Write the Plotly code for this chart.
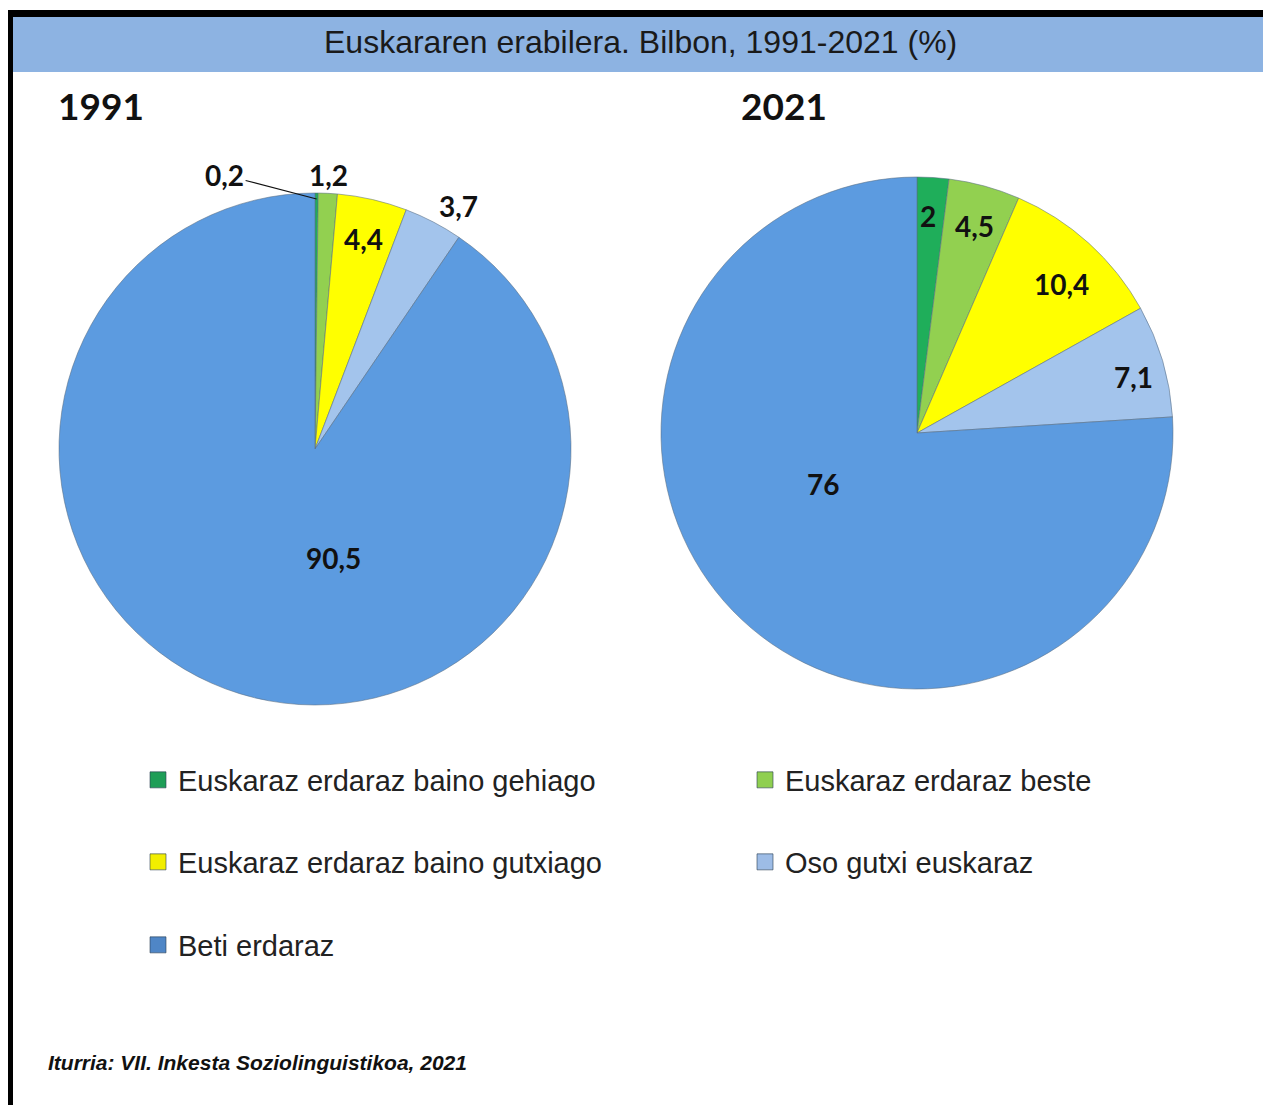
import math
import plotly.graph_objects as go

# ---------------- data ----------------
categories = [
    "Euskaraz erdaraz baino gehiago",
    "Euskaraz erdaraz beste",
    "Euskaraz erdaraz baino gutxiago",
    "Oso gutxi euskaraz",
    "Beti erdaraz",
]
values_1991 = [0.2, 1.2, 4.4, 3.7, 90.5]
values_2021 = [2.0, 4.5, 10.4, 7.1, 76.0]
years = ["1991", "2021"]
title_text = "Euskararen erabilera. Bilbon, 1991-2021 (%)"
source_text = "Iturria: VII. Inkesta Soziolinguistikoa, 2021"

# ---------------- style ----------------
slice_colors = ["#1fae5a", "#92d050", "#ffff00", "#a3c4ec", "#5c9be0"]
legend_colors = ["#1e9e57", "#8fcf50", "#f2ee00", "#9dbce6", "#4f86c6"]

W, H = 1255, 1097      # page has an 8px body margin
OFF = 8


def px(x):
    return (x - OFF) / W


def py(y):
    return 1 - (y - OFF) / H


R = 256
centers = [(315, 449), (917, 433)]
# label placement (radius factor, angle nudge in degrees) per slice
label_pos = [
    [None, (1.07, 0), (0.84, 0), (1.10, 3), (0.43, -26.6)],
    [(0.85, -0.7), (0.84, 0.3), (0.81, 2.1), (0.875, 1.9), (0.42, 18.3)],
]
label_font = dict(family="Lato", size=28, color="#111111")


def fmt(v):
    return ("%g" % v).replace(".", ",")


fig = go.Figure()

for i, vals in enumerate([values_1991, values_2021]):
    cx, cy = centers[i]
    fig.add_trace(go.Pie(
        labels=categories,
        values=vals,
        sort=False,
        direction="clockwise",
        rotation=0,
        marker=dict(colors=slice_colors, line=dict(color="rgba(90,110,130,0.55)", width=1)),
        textinfo="none",
        hoverinfo="label+value",
        showlegend=False,
        domain=dict(x=[px(cx - R), px(cx + R)], y=[py(cy + R), py(cy - R)]),
    ))
    total = sum(vals)
    cum = 0
    for j, v in enumerate(vals):
        mid = (cum + v / 2) / total * 360
        cum += v
        lp = label_pos[i][j]
        if lp is None:
            tx = cx + R * math.sin(math.radians(mid))
            ty = cy - R * math.cos(math.radians(mid))
            fig.add_annotation(
                x=px(tx), y=py(ty + 6), xref="paper", yref="paper",
                text="<b>%s</b>" % fmt(v), showarrow=True, arrowhead=0,
                arrowwidth=1.2, arrowcolor="#111", ax=-92, ay=-24,
                font=label_font,
            )
            continue
        f, d = lp
        ang = math.radians(mid + d)
        lx = cx + R * f * math.sin(ang)
        ly = cy - R * f * math.cos(ang)
        fig.add_annotation(
            x=px(lx), y=py(ly), xref="paper", yref="paper",
            text="<b>%s</b>" % fmt(v), showarrow=False,
            xanchor="center", yanchor="middle", font=label_font,
        )

# legend: one legend box per entry, laid out in two columns
legend_names = ["legend", "legend2", "legend3", "legend4", "legend5"]
legend_xy = [(138, 780), (745, 780), (138, 862), (745, 862), (138, 945)]
for k, cat in enumerate(categories):
    fig.add_trace(go.Scatter(
        x=[None], y=[None], mode="markers", name=cat,
        marker=dict(symbol="square", size=16, color=legend_colors[k],
                    line=dict(color="rgba(40,60,80,0.6)", width=1)),
        legend=legend_names[k], hoverinfo="skip",
    ))

leg_common = dict(
    orientation="h", xanchor="left", yanchor="middle",
    font=dict(family="Liberation Sans", size=29, color="#222222"),
    bgcolor="rgba(0,0,0,0)", itemclick=False, itemdoubleclick=False,
)
legends = {name: dict(x=px(lx), y=py(ly), **leg_common)
           for name, (lx, ly) in zip(legend_names, legend_xy)}

fig.update_layout(
    width=W, height=H,
    margin=dict(l=0, r=0, t=0, b=0),
    paper_bgcolor="white", plot_bgcolor="white",
    xaxis=dict(visible=False), yaxis=dict(visible=False),
    shapes=[
        dict(type="rect", xref="paper", yref="paper", x0=px(13), x1=1,
             y0=py(72), y1=py(17), fillcolor="#8db3e2", line=dict(width=0), layer="below"),
        dict(type="rect", xref="paper", yref="paper", x0=0, x1=1,
             y0=py(17), y1=py(10), fillcolor="#000000", line=dict(width=0), layer="below"),
        dict(type="rect", xref="paper", yref="paper", x0=0, x1=px(13),
             y0=0, y1=py(10), fillcolor="#000000", line=dict(width=0), layer="below"),
    ],
    **legends,
)

fig.add_annotation(x=px(641), y=py(42), xref="paper", yref="paper", text=title_text,
                   showarrow=False, xanchor="center", yanchor="middle",
                   font=dict(family="Liberation Sans", size=32, color="#1a1a1a"))
for yr, xx in zip(years, [56, 739]):
    fig.add_annotation(x=px(xx), y=py(105), xref="paper", yref="paper", text="<b>%s</b>" % yr,
                       showarrow=False, xanchor="left", yanchor="middle",
                       font=dict(family="Lato", size=37, color="#111111"))
fig.add_annotation(x=px(46), y=py(1062), xref="paper", yref="paper",
                   text="<b><i>%s</i></b>" % source_text,
                   showarrow=False, xanchor="left", yanchor="middle",
                   font=dict(family="Liberation Sans", size=21, color="#111111"))

fig.write_html("out.html")
